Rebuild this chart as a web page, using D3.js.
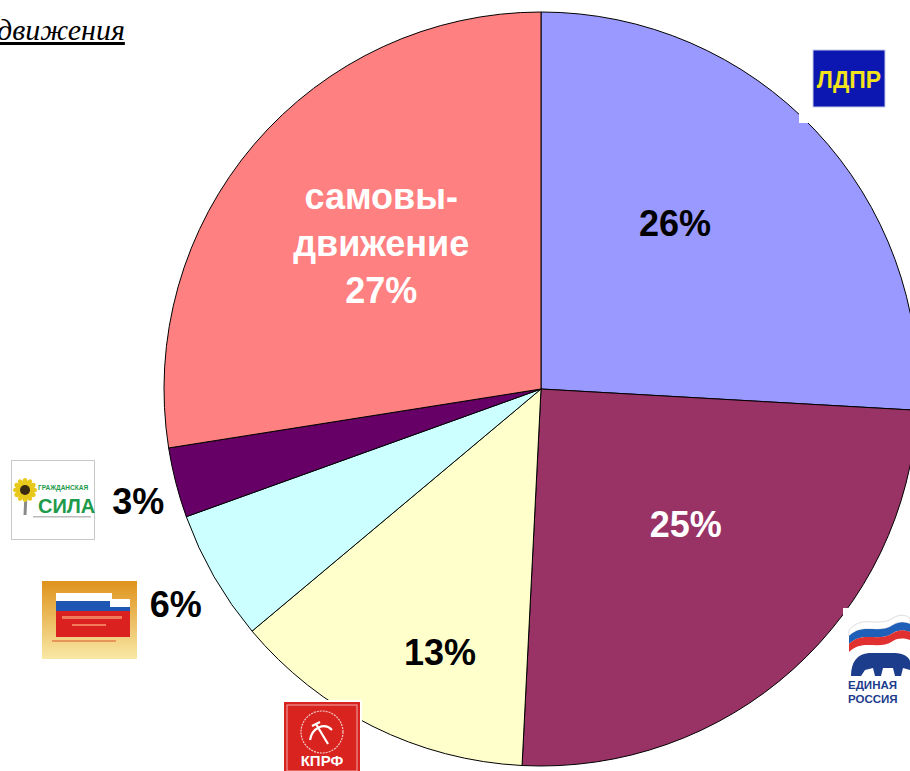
<!DOCTYPE html>
<html>
<head>
<meta charset="utf-8">
<script src="https://cdn.jsdelivr.net/npm/d3@7"></script>
<style>
  body { margin: 0; background: #fff; }
  svg { display: block; }
</style>
</head>
<body>
<svg id="chart"></svg>
<script>
const width = 910, height = 771;

// data (shares, labels as printed)
const parties = ["ЛДПР", "Единая Россия", "КПРФ", "Справедливая Россия", "Гражданская сила", "самовыдвижение"];
const shares = [25.9, 24.9, 13.1, 5.6, 3.0, 27.5];
const labels = ["26%", "25%", "13%", "6%", "3%", "27%"];
const colors = ["#9999FF", "#993366", "#FFFFCC", "#CCFFFF", "#660066", "#FF8080"];
const labelColors = ["#000", "#fff", "#000", "#000", "#000", "#fff"];

// label placement: angle (deg from 12 o'clock) and distance from centre
const labelAngle = [39, 133, 201, 239.5, 254.5, 312];
const labelDist = [213, 198, 282, 424, 418, 215];

const cx = 541, cy = 389, radius = 377;

const svg = d3.select("#chart")
              .attr("width", width)
              .attr("height", height);

// title fragment, cut at the left edge
svg.append("text")
   .attr("x", -3)
   .attr("y", 40)
   .attr("font-family", "Liberation Serif, serif")
   .attr("font-style", "italic")
   .attr("font-size", 30)
   .attr("text-decoration", "underline")
   .attr("fill", "#000")
   .text("движения");

const pie = d3.pie().sort(null).value(d => d);
const arcs = pie(shares);
const arc = d3.arc().innerRadius(0).outerRadius(radius);

const g = svg.append("g").attr("transform", `translate(${cx},${cy})`);

g.selectAll("path")
 .data(arcs)
 .enter()
 .append("path")
 .attr("d", arc)
 .attr("fill", (d, i) => colors[i])
 .attr("stroke", "#000")
 .attr("stroke-width", 1);

g.selectAll("text.pct")
 .data(arcs)
 .enter()
 .append("text")
 .attr("class", "pct")
 .attr("x", (d, i) => labelDist[i] * Math.sin(labelAngle[i] * Math.PI / 180))
 .attr("y", (d, i) => -labelDist[i] * Math.cos(labelAngle[i] * Math.PI / 180))
 .attr("text-anchor", "middle")
 .attr("font-family", "Liberation Sans, Arial, sans-serif")
 .attr("font-weight", "bold")
 .attr("font-size", 36)
 .attr("fill", (d, i) => labelColors[i])
 .each(function(d, i) {
    const t = d3.select(this);
    if (i === 5) {
      const lines = ["самовы-", "движение", labels[i]];
      lines.forEach((s, k) => {
        t.append("tspan")
         .attr("x", t.attr("x"))
         .attr("dy", k === 0 ? "-1.0em" : "1.3em")
         .text(s);
      });
    } else {
      t.attr("dy", "0.36em").text(labels[i]);
    }
 });

// ---- party logos (simplified) ----
const logos = svg.append("g");

// ЛДПР
logos.append("rect").attr("x", 799).attr("y", 45).attr("width", 92).attr("height", 78).attr("fill", "#fff");
logos.append("rect").attr("x", 813).attr("y", 50).attr("width", 72).attr("height", 57)
     .attr("fill", "#0B17B0").attr("stroke", "#c8cbe8").attr("stroke-width", 1);
logos.append("text").attr("x", 849).attr("y", 88).attr("text-anchor", "middle")
     .attr("font-family", "Liberation Sans, Arial, sans-serif").attr("font-weight", "bold")
     .attr("font-size", 23).attr("fill", "#F2E31C").text("ЛДПР");

// Единая Россия
const er = logos.append("g").attr("transform", "translate(843,608)");
er.append("rect").attr("width", 67).attr("height", 98).attr("fill", "#fff");
er.append("path").attr("d", "M6,22 C20,6 35,20 50,10 C58,5 64,8 67,10 L67,16 C60,14 55,13 50,17 C35,27 20,14 6,28 Z").attr("fill", "#fff").attr("stroke", "#ddd");
er.append("path").attr("d", "M6,28 C20,14 35,27 50,17 C57,13 62,14 67,16 L67,24 C60,22 55,22 50,25 C35,35 20,22 6,36 Z").attr("fill", "#1f5fb8");
er.append("path").attr("d", "M6,36 C20,22 35,35 50,25 C57,21 62,22 67,24 L67,32 C60,30 55,30 50,33 C35,43 20,30 6,44 Z").attr("fill", "#e03030");
er.append("path").attr("d", "M8,68 C8,54 14,46 26,45 L52,45 C60,45 66,49 67,53 L67,62 L60,60 L58,68 L52,68 L50,60 L40,60 L38,68 L32,68 L30,60 L22,62 L18,68 L10,68 Z").attr("fill", "#1c3c8c");
er.append("text").attr("x", 5).attr("y", 81).attr("font-family", "Liberation Sans, Arial, sans-serif")
  .attr("font-weight", "bold").attr("font-size", 11.5).attr("fill", "#1c3c8c").text("ЕДИНАЯ");
er.append("text").attr("x", 5).attr("y", 95).attr("font-family", "Liberation Sans, Arial, sans-serif")
  .attr("font-weight", "bold").attr("font-size", 11.5).attr("fill", "#1c3c8c").text("РОССИЯ");

// КПРФ
const kp = logos.append("g").attr("transform", "translate(282,700)");
kp.append("rect").attr("width", 80).attr("height", 71).attr("fill", "#fff");
kp.append("rect").attr("x", 2).attr("y", 2).attr("width", 76).attr("height", 69).attr("fill", "#D9231E");
kp.append("rect").attr("x", 5).attr("y", 5).attr("width", 70).attr("height", 66).attr("fill", "none")
  .attr("stroke", "#f4c9c6").attr("stroke-width", 0.8);
kp.append("circle").attr("cx", 40).attr("cy", 32).attr("r", 21).attr("fill", "none")
  .attr("stroke", "#f4c9c6").attr("stroke-width", 1.2).attr("stroke-dasharray", "2,1");
kp.append("path").attr("d", "M28,40 C30,28 42,22 50,30 M34,24 L46,44 M30,26 L38,22")
  .attr("fill", "none").attr("stroke", "#fff").attr("stroke-width", 2.2);
kp.append("text").attr("x", 40).attr("y", 66).attr("text-anchor", "middle")
  .attr("font-family", "Liberation Sans, Arial, sans-serif").attr("font-weight", "bold")
  .attr("font-size", 15).attr("fill", "#fff").text("КПРФ");

// Справедливая Россия
const defs = svg.append("defs");
const grad = defs.append("linearGradient").attr("id", "srGrad").attr("x1", 0).attr("y1", 0).attr("x2", 0).attr("y2", 1);
grad.append("stop").attr("offset", "0%").attr("stop-color", "#DF931C");
grad.append("stop").attr("offset", "100%").attr("stop-color", "#F9E8A6");
const sr = logos.append("g").attr("transform", "translate(42,581)");
sr.append("rect").attr("width", 95).attr("height", 78).attr("fill", "url(#srGrad)");
sr.append("rect").attr("x", 14).attr("y", 12).attr("width", 56).attr("height", 8).attr("fill", "#fff");
sr.append("rect").attr("x", 14).attr("y", 20).attr("width", 56).attr("height", 10).attr("fill", "#1f56b4");
sr.append("rect").attr("x", 68).attr("y", 18).attr("width", 20).attr("height", 8).attr("fill", "#fff");
sr.append("rect").attr("x", 68).attr("y", 26).attr("width", 20).attr("height", 8).attr("fill", "#1f56b4");
sr.append("rect").attr("x", 14).attr("y", 30).attr("width", 74).attr("height", 26).attr("fill", "#DB2020");
sr.append("rect").attr("x", 20).attr("y", 35).attr("width", 60).attr("height", 3).attr("fill", "#f07a5a");
sr.append("rect").attr("x", 30).attr("y", 43).attr("width", 34).attr("height", 2).attr("fill", "#f07a5a");
sr.append("rect").attr("x", 10).attr("y", 59).attr("width", 64).attr("height", 2).attr("fill", "#e06a40").attr("opacity", 0.6);

// Гражданская сила
const gs = logos.append("g").attr("transform", "translate(11,460)");
gs.append("rect").attr("x", 0.5).attr("y", 0.5).attr("width", 83).attr("height", 79).attr("fill", "#fff")
  .attr("stroke", "#c8c8c8");
gs.append("path").attr("d", "M15,34 L14,55").attr("stroke", "#8a8a8a").attr("stroke-width", 3);
d3.range(12).forEach(k => {
  const a = k * Math.PI / 6;
  gs.append("ellipse").attr("cx", 14 + 8 * Math.cos(a)).attr("cy", 30 + 8 * Math.sin(a))
    .attr("rx", 4).attr("ry", 2.5).attr("transform", `rotate(${k * 30},${14 + 8 * Math.cos(a)},${30 + 8 * Math.sin(a)})`)
    .attr("fill", "#E8C81A");
});
gs.append("circle").attr("cx", 14).attr("cy", 30).attr("r", 5).attr("fill", "#3a2a10");
gs.append("text").attr("x", 27).attr("y", 30).attr("font-family", "Liberation Sans, Arial, sans-serif")
  .attr("font-weight", "bold").attr("font-size", 6.5).attr("fill", "#1d9a4a").text("ГРАЖДАНСКАЯ");
gs.append("text").attr("x", 27).attr("y", 53).attr("font-family", "Liberation Sans, Arial, sans-serif")
  .attr("font-weight", "bold").attr("font-size", 20).attr("fill", "#1d9a4a").text("СИЛА");
gs.append("rect").attr("x", 22).attr("y", 56).attr("width", 58).attr("height", 1.5).attr("fill", "#bbb");
</script>
</body>
</html>
